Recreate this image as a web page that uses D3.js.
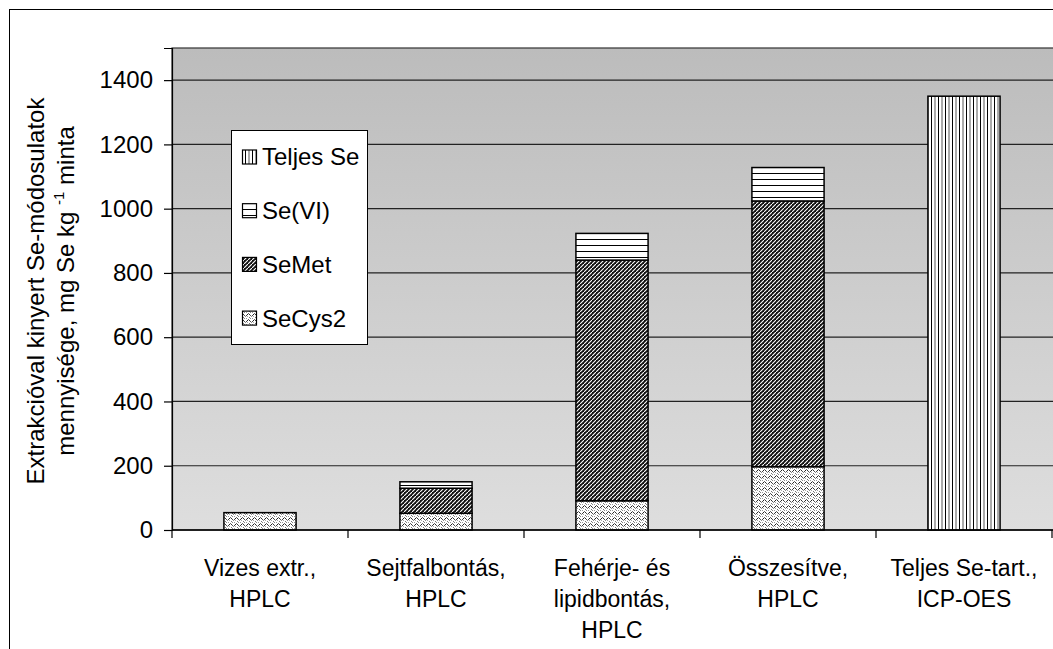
<!DOCTYPE html>
<html>
<head>
<meta charset="utf-8">
<script src="https://cdn.jsdelivr.net/npm/d3@7"></script>
<style>
  html, body { margin: 0; padding: 0; background: #fff; }
  svg { display: block; font-family: "Liberation Sans", Arial, sans-serif; }
</style>
</head>
<body>
<svg id="chart" width="1053" height="649"></svg>
<script>
// Categories (each label split into its display lines)
const categories = ["vizes", "sejtfal", "feherje", "osszes", "teljes"];
const categoryLines = [
  ["Vizes extr.,", "HPLC"],
  ["Sejtfalbontás,", "HPLC"],
  ["Fehérje- és", "lipidbontás,", "HPLC"],
  ["Összesítve,", "HPLC"],
  ["Teljes Se-tart.,", "ICP-OES"]
];

// Series values, mg Se kg-1 sample (stacked bottom to top)
const seCys2 = [54, 52, 91, 197, 0];
const seMet  = [0, 78, 749, 827, 0];
const seVI   = [0, 20, 83, 104, 0];
const teljesSe = [0, 0, 0, 0, 1350];

const seriesKeys = ["SeCys2", "SeMet", "SeVI", "Teljes"];
const seriesNames = { SeCys2: "SeCys2", SeMet: "SeMet", SeVI: "Se(VI)", Teljes: "Teljes Se" };
const legendOrder = ["Teljes", "SeVI", "SeMet", "SeCys2"];

const yTicks = [0, 200, 400, 600, 800, 1000, 1200, 1400];
const yMax = 1500;

const rows = categories.map((c, i) => ({
  cat: c, SeCys2: seCys2[i], SeMet: seMet[i], SeVI: seVI[i], Teljes: teljesSe[i]
}));

const svg = d3.select("#chart");
const plot = { left: 172, right: 1052, top: 48, bottom: 530 };

const x = d3.scaleBand().domain(categories)
  .range([plot.left, plot.right]).paddingInner(0.59).paddingOuter(0.295);
const y = d3.scaleLinear().domain([0, yMax]).range([plot.bottom, plot.top]);

// ---- fills ----
const defs = svg.append("defs");
const grad = defs.append("linearGradient").attr("id", "bg")
  .attr("x1", 0).attr("y1", 0).attr("x2", 0).attr("y2", 1);
grad.append("stop").attr("offset", "0%").attr("stop-color", "#bcbcbc");
grad.append("stop").attr("offset", "100%").attr("stop-color", "#dedede");

// SeCys2: light zig-zag stipple
const pCys = defs.append("pattern").attr("id", "pCys").attr("patternUnits", "userSpaceOnUse")
  .attr("width", 6).attr("height", 6);
pCys.append("rect").attr("width", 6).attr("height", 6).attr("fill", "#fff");
[[0,3,"#444"],[1,2,"#222"],[2,1,"#666"],[3,2,"#333"],[4,3,"#555"],[5,4,"#888"],
 [0,0,"#999"],[3,5,"#777"],[1,4,"#aaa"],[4,0,"#888"]]
  .forEach(([px, py, c]) => pCys.append("rect").attr("x", px).attr("y", py).attr("width", 1).attr("height", 1).attr("fill", c));

// SeMet: dark upward diagonal
const pMet = defs.append("pattern").attr("id", "pMet").attr("patternUnits", "userSpaceOnUse")
  .attr("width", 4).attr("height", 4);
pMet.append("rect").attr("width", 4).attr("height", 4).attr("fill", "#111");
pMet.append("path").attr("d", "M-1,5 L5,-1").attr("stroke", "#fff").attr("stroke-width", 1.1);
pMet.append("rect").attr("x", 0).attr("y", 0).attr("width", 1).attr("height", 1).attr("fill", "#111");

// Se(VI): horizontal lines
const pVI = defs.append("pattern").attr("id", "pVI").attr("patternUnits", "userSpaceOnUse")
  .attr("width", 6).attr("height", 6);
pVI.append("rect").attr("width", 6).attr("height", 6).attr("fill", "#fff");
pVI.append("rect").attr("x", 0).attr("y", 5).attr("width", 6).attr("height", 1.2).attr("fill", "#000");

// Teljes Se: vertical lines
const pTel = defs.append("pattern").attr("id", "pTel").attr("patternUnits", "userSpaceOnUse")
  .attr("width", 7).attr("height", 6);
pTel.append("rect").attr("width", 7).attr("height", 6).attr("fill", "#fff");
pTel.append("rect").attr("x", 0).attr("y", 0).attr("width", 1).attr("height", 6).attr("fill", "#000");
pTel.append("rect").attr("x", 3.5).attr("y", 0).attr("width", 1).attr("height", 6).attr("fill", "#555");

const fills = { SeCys2: "url(#pCys)", SeMet: "url(#pMet)", SeVI: "url(#pVI)", Teljes: "url(#pTel)" };

// ---- outer frame ----
svg.append("rect").attr("x", 9.5).attr("y", 9.5).attr("width", 1100).attr("height", 700)
  .attr("fill", "#fff").attr("stroke", "#000").attr("stroke-width", 1);

// ---- plot background ----
svg.append("rect").attr("x", plot.left).attr("y", plot.top)
  .attr("width", plot.right - plot.left + 20).attr("height", plot.bottom - plot.top)
  .attr("fill", "url(#bg)").attr("stroke", "#333").attr("stroke-width", 1.2);

// gridlines
svg.append("g").selectAll("line").data(yTicks.filter(d => d > 0)).join("line")
  .attr("x1", plot.left).attr("x2", plot.right + 20)
  .attr("y1", d => y(d)).attr("y2", d => y(d))
  .attr("stroke", "#222").attr("stroke-width", 1.2);

// ---- stacked bars ----
const stack = d3.stack().keys(seriesKeys)(rows);
svg.append("g").selectAll("g").data(stack).join("g")
  .attr("fill", d => fills[d.key])
  .selectAll("rect").data(d => d.filter(s => s[1] - s[0] > 0)).join("rect")
  .attr("x", d => x(d.data.cat))
  .attr("width", x.bandwidth())
  .attr("y", d => y(d[1]))
  .attr("height", d => y(d[0]) - y(d[1]))
  .attr("stroke", "#000").attr("stroke-width", 1.5);

// ---- axes ----
const yAxis = svg.append("g").attr("transform", `translate(${plot.left},0)`)
  .call(d3.axisLeft(y).tickValues(yTicks).tickSize(8).tickPadding(11).tickFormat(d3.format("d")));
yAxis.select(".domain").attr("stroke", "#000").attr("stroke-width", 1.2);
yAxis.selectAll(".tick line").attr("stroke", "#000").attr("stroke-width", 1.2);
yAxis.selectAll(".tick text").attr("font-size", 24).attr("fill", "#000")
  .attr("font-family", "Liberation Sans, Arial, sans-serif");

// x axis line and boundary ticks
const bounds = d3.range(categories.length + 1).map(i => plot.left + i * x.step());
svg.append("line").attr("x1", plot.left).attr("x2", plot.right + 20)
  .attr("y1", plot.bottom).attr("y2", plot.bottom).attr("stroke", "#000").attr("stroke-width", 1.5);
svg.append("g").selectAll("line").data(bounds).join("line")
  .attr("x1", d => d).attr("x2", d => d)
  .attr("y1", plot.bottom).attr("y2", plot.bottom + 8)
  .attr("stroke", "#000").attr("stroke-width", 1.2);

// category labels
const catG = svg.append("g").attr("font-size", 23).attr("text-anchor", "middle").attr("fill", "#000");
categories.forEach((c, i) => {
  const t = catG.append("text").attr("x", x(c) + x.bandwidth() / 2).attr("y", 576);
  categoryLines[i].forEach((line, j) => {
    t.append("tspan").attr("x", x(c) + x.bandwidth() / 2).attr("dy", j === 0 ? 0 : 31).text(line);
  });
});

// ---- y-axis title ----
const titleG = svg.append("g").attr("transform", "translate(0,291) rotate(-90)")
  .attr("font-size", 24).attr("text-anchor", "middle").attr("fill", "#000");
titleG.append("text").attr("x", 0).attr("y", 44).text("Extrakcióval kinyert Se-módosulatok");
const t2 = titleG.append("text").attr("x", 0).attr("y", 74);
t2.append("tspan").text("mennyisége, mg Se kg  ");
t2.append("tspan").attr("font-size", 15).attr("dy", -10).text("-1");
t2.append("tspan").attr("dy", 10).text("  minta");

// ---- legend ----
const lg = svg.append("g");
lg.append("rect").attr("x", 231.5).attr("y", 130.5).attr("width", 136).attr("height", 214)
  .attr("fill", "#fff").attr("stroke", "#000").attr("stroke-width", 1);
legendOrder.forEach((k, i) => {
  const cy = 157 + i * 53.7;
  lg.append("rect").attr("x", 242.5).attr("y", cy - 7).attr("width", 14).attr("height", 14)
    .attr("fill", fills[k]).attr("stroke", "#000").attr("stroke-width", 1.2);
  lg.append("text").attr("x", 262).attr("y", cy).attr("dy", "0.35em")
    .attr("font-size", 24).attr("fill", "#000").text(seriesNames[k]);
});
</script>
</body>
</html>
